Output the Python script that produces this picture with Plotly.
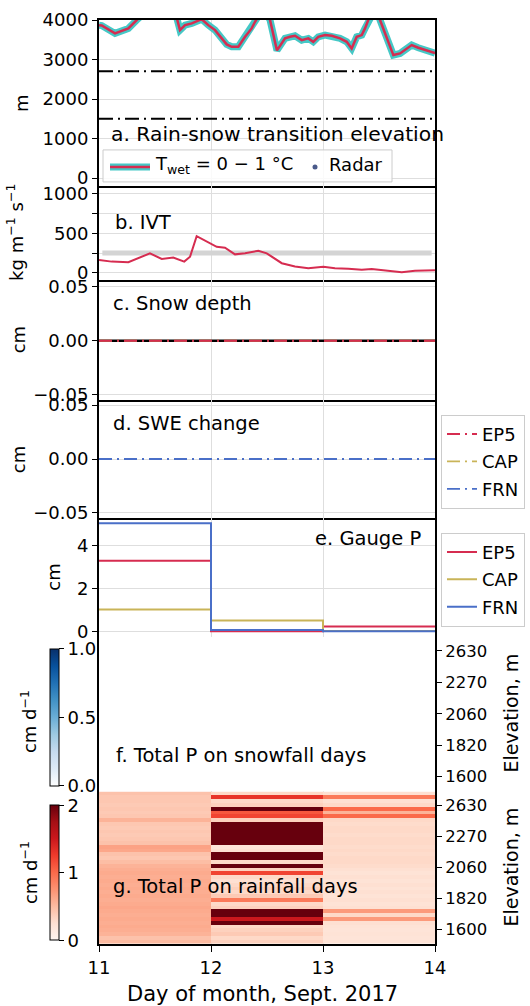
import plotly.graph_objects as go

# ---------------- data ----------------
# a. Rain-snow transition elevation (m)
snowline_day = [11.0, 11.024, 11.143, 11.262, 11.337, 11.45, 11.6, 11.69, 11.723, 11.768,
                11.828, 11.872, 11.917, 11.976, 12.036, 12.14, 12.185, 12.244, 12.304, 12.363,
                12.393, 12.47, 12.527, 12.589, 12.661, 12.705, 12.75, 12.81, 12.869, 12.913,
                12.958, 13.018, 13.078, 13.152, 13.212, 13.256, 13.301, 13.346, 13.375, 13.404,
                13.47, 13.509, 13.628, 13.688, 13.792, 13.851, 13.971, 14.0]
snowline_elev = [3870, 3860, 3661, 3787, 4000, 4300, 4400, 4100, 3744, 3870,
                 3914, 3970, 4020, 3870, 3744, 3382, 3322, 3322, 3575, 3787,
                 3955, 4300, 4000, 3230, 3534, 3575, 3600, 3491, 3534, 3449,
                 3575, 3618, 3600, 3534, 3449, 3281, 3575, 3618, 3787, 4000,
                 4300, 4000, 3112, 3154, 3365, 3297, 3190, 3160]
radar_day = []
radar_elev = []
station_range_elev = [2700, 1500]

# b. IVT (kg m-1 s-1)
ivt_day = [11.0, 11.113, 11.262, 11.351, 11.455, 11.56, 11.663, 11.761, 11.813, 11.872,
           11.961, 12.051, 12.125, 12.214, 12.304, 12.423, 12.498, 12.632, 12.75, 12.869,
           13.003, 13.107, 13.226, 13.346, 13.435, 13.554, 13.703, 13.821, 13.94, 14.0]
ivt_value = [162, 141, 133, 183, 246, 175, 192, 141, 204, 463,
             400, 329, 317, 233, 246, 279, 246, 121, 79, 58,
             75, 58, 50, 37, 46, 25, 5, 25, 33, 33]
ivt_threshold = 250

# c./d. snow depth and SWE change (cm)
daily_day = [11, 12, 13, 14]
depth_ep5 = [0, 0, 0, 0]
depth_cap = [0, 0, 0, 0]
depth_frn = [0, 0, 0, 0]
swe_ep5 = [0, 0, 0, 0]
swe_cap = [0, 0, 0, 0]
swe_frn = [0, 0, 0, 0]

# e. Gauge P (cm per day, days 11, 12, 13)
gauge_edges = [11, 12, 13, 14]
gauge_ep5 = [3.29, 0.0, 0.22]
gauge_cap = [1.02, 0.5, 0.02]
gauge_frn = [5.05, 0.06, 0.0]

# f./g. Total P per station (cm d-1), stations listed from highest to lowest
day_edges = [11, 12, 13, 14]
elev_ticklabels = ["1600", "1820", "2060", "2270", "2630"]
snow_day11 = [0.0] * 40
snow_day12 = [0.0] * 40
snow_day13 = [0.0] * 40
rain_day11 = [0.45, 0.42, 0.42, 0.40, 0.42, 0.40, 0.42, 0.55, 0.42, 0.40,
              0.42, 0.40, 0.42, 0.45, 0.65, 0.62, 0.45, 0.42, 0.48, 0.55,
              0.58, 0.60, 0.58, 0.60, 0.58, 0.60, 0.58, 0.60, 0.58, 0.60,
              0.62, 0.60, 0.58, 0.60, 0.58, 0.60, 0.58, 0.55, 0.45, 0.50]
rain_day12 = [0.30, 1.30, 0.30, 0.35, 2.20, 1.10, 1.20, 0.35, 2.50, 2.50,
              2.50, 2.50, 2.50, 2.50, 0.20, 0.25, 2.30, 2.30, 0.30, 2.30,
              0.35, 1.20, 0.30, 0.25, 0.30, 0.35, 0.30, 0.40, 0.90, 0.30,
              0.35, 2.40, 2.20, 1.50, 2.30, 0.30, 0.35, 0.40, 0.30, 0.35]
rain_day13 = [0.25, 0.90, 0.25, 0.30, 1.00, 0.55, 1.00, 0.30, 0.28, 0.30,
              0.30, 0.28, 0.30, 0.30, 0.28, 0.30, 0.28, 0.30, 0.30, 0.28,
              0.25, 0.22, 0.25, 0.22, 0.25, 0.22, 0.25, 0.22, 0.25, 0.22,
              0.25, 0.70, 0.30, 0.70, 0.25, 0.22, 0.20, 0.22, 0.20, 0.22]

# ---------------- layout helpers ----------------
W, H = 530, 1006
L, R, T, B = 99, 435, 20, 944.5
def px(x):
    return (x - L) / (R - L)
def py(y):
    return (B - y) / (B - T)

bounds = [20, 186, 280, 400, 518.5, 637, 792, 944.5]
FONT = "DejaVu Sans"
RED = "#d62c50"
CYAN = "#45c8c6"
CAPC = "#c9b458"
FRNC = "#4a6fc8"
GRID = "#dedede"
DD = "13px,5px,2px,5px"
LW = 2

n_st = len(rain_day11)
ypos = list(range(n_st))  # 0 = lowest station
rain_z = [[rain_day11[n_st - 1 - k], rain_day12[n_st - 1 - k], rain_day13[n_st - 1 - k]] for k in ypos]
snow_z = [[snow_day11[n_st - 1 - k], snow_day12[n_st - 1 - k], snow_day13[n_st - 1 - k]] for k in ypos]
elev_tickpos = [3.4, 11.5, 19.6, 27.7, 35.8]

REDS = ["#fff5f0", "#fee0d2", "#fcbba1", "#fc9272", "#fb6a4a", "#ef3b2c", "#cb181d", "#a50f15", "#67000d"]
BLUES = ["#ffffff", "#deebf7", "#c6dbef", "#9ecae1", "#6baed6", "#4292c6", "#2171b5", "#08519c", "#08306b"]
def cs(cols):
    return [[i / (len(cols) - 1), c] for i, c in enumerate(cols)]

fig = go.Figure()

# a
fig.add_trace(go.Scatter(x=snowline_day, y=snowline_elev, mode="lines", line=dict(color=CYAN, width=7),
                         xaxis="x", yaxis="y", showlegend=False))
fig.add_trace(go.Scatter(x=snowline_day, y=snowline_elev, mode="lines", line=dict(color=RED, width=2.5),
                         xaxis="x", yaxis="y", showlegend=False))
for e in station_range_elev:
    fig.add_trace(go.Scatter(x=[daily_day[0], daily_day[-1]], y=[e, e], mode="lines",
                             line=dict(color="black", width=2, dash="14px,5px,2px,5px"),
                             xaxis="x", yaxis="y", showlegend=False))
fig.add_trace(go.Scatter(x=radar_day, y=radar_elev, mode="markers", marker=dict(color="#4a5a8a", size=5),
                         xaxis="x", yaxis="y", showlegend=False))

# b
fig.add_trace(go.Scatter(x=[11.03, 13.97], y=[ivt_threshold, ivt_threshold], mode="lines",
                         line=dict(color="#d4d4d4", width=5), xaxis="x2", yaxis="y2", showlegend=False))
fig.add_trace(go.Scatter(x=ivt_day, y=ivt_value, mode="lines", line=dict(color=RED, width=2),
                         xaxis="x2", yaxis="y2", showlegend=False))

# c
fig.add_trace(go.Scatter(x=daily_day, y=depth_frn, mode="lines", line=dict(color="black", width=2.5),
                         xaxis="x3", yaxis="y3", showlegend=False))
for vals, col in [(depth_cap, CAPC), (depth_ep5, RED)]:
    fig.add_trace(go.Scatter(x=daily_day, y=vals, mode="lines", line=dict(color=col, width=2, dash=DD),
                             xaxis="x3", yaxis="y3", showlegend=False))

# d
for vals, col, name in [(swe_ep5, RED, "EP5"), (swe_cap, CAPC, "CAP"), (swe_frn, FRNC, "FRN")]:
    fig.add_trace(go.Scatter(x=daily_day, y=vals, mode="lines", name=name, legendgroup="d" + name,
                             line=dict(color=col, width=1.8, dash=DD),
                             xaxis="x4", yaxis="y4", legend="legend2"))

# e
for vals, col, name in [(gauge_ep5, RED, "EP5"), (gauge_cap, CAPC, "CAP"), (gauge_frn, FRNC, "FRN")]:
    fig.add_trace(go.Scatter(x=gauge_edges, y=vals + [vals[-1]], mode="lines", line_shape="hv", name=name,
                             legendgroup="e" + name, line=dict(color=col, width=2),
                             xaxis="x5", yaxis="y5", legend="legend3"))

cb_common = dict(x=px(50), xanchor="left", xpad=0, yanchor="middle", ypad=0, lenmode="pixels",
                 thickness=9, thicknessmode="pixels", outlinecolor="black", outlinewidth=1,
                 ticks="outside", ticklen=5, tickcolor="black", tickfont=dict(size=18, color="black"))
# f
fig.add_trace(go.Heatmap(x=day_edges, y=ypos, z=snow_z, colorscale=cs(BLUES), zmin=0, zmax=1,
                         xaxis="x6", yaxis="y6",
                         colorbar=dict(y=py(717.8), len=136.5, tickvals=[0, 0.5, 1],
                                       ticktext=["0.0", "0.5", "1.0"], **cb_common)))
# g
fig.add_trace(go.Heatmap(x=day_edges, y=ypos, z=rain_z, colorscale=cs(REDS), zmin=0, zmax=2,
                         xaxis="x7", yaxis="y7",
                         colorbar=dict(y=py(873.3), len=135.4, tickvals=[0, 1, 2], **cb_common)))

layout = dict(
    width=W, height=H, paper_bgcolor="white", plot_bgcolor="white",
    margin=dict(l=L, r=W - R, t=T, b=H - B, autoexpand=False),
    font=dict(family=FONT, size=18, color="black"),
)
for i in range(1, 8):
    dom = [py(bounds[i]), py(bounds[i - 1])]
    xa = dict(domain=[0, 1], range=[11, 14], anchor="y%d" % i, tickvals=[11, 12, 13, 14],
              showgrid=True, gridcolor=GRID, gridwidth=1, showticklabels=(i == 7),
              ticks="outside" if i == 7 else "", ticklen=6, tickcolor="black", tickwidth=1.3,
              showline=True, mirror=(i == 1), linecolor="black", linewidth=LW, zeroline=False)
    if i >= 6:
        xa["layer"] = "above traces"
    layout["xaxis" if i == 1 else "xaxis%d" % i] = xa
    ya = dict(domain=dom, anchor="x%d" % i, ticks="outside", ticklen=5, tickcolor="black", tickwidth=1.3,
              showgrid=True, gridcolor=GRID, gridwidth=1, showline=True, mirror=True, linecolor="black",
              linewidth=LW, zeroline=False)
    layout["yaxis" if i == 1 else "yaxis%d" % i] = ya

layout["yaxis"].update(range=[-200, 4000], tickvals=[0, 1000, 2000, 3000, 4000])
layout["yaxis2"].update(range=[-90, 1100], tickvals=[0, 500, 1000],
                        minor=dict(tickvals=[250, 750], ticks="outside", ticklen=5, tickcolor="black",
                                   showgrid=True, gridcolor=GRID))
layout["yaxis3"].update(range=[-0.0547, 0.0563], tickvals=[-0.05, 0, 0.05], tickformat=".2f")
layout["yaxis4"].update(range=[-0.055, 0.055], tickvals=[-0.05, 0, 0.05], tickformat=".2f")
layout["yaxis5"].update(range=[-0.25, 5.28], tickvals=[0, 2, 4])
for k in ("yaxis6", "yaxis7"):
    layout[k].update(range=[-0.5, n_st - 0.5], side="right", tickvals=elev_tickpos, ticktext=elev_ticklabels,
                     showgrid=False, tickfont=dict(size=16.5))

leg_common = dict(bgcolor="white", bordercolor="#cccccc", borderwidth=1, font=dict(size=18),
                  xanchor="left", yanchor="top", tracegroupgap=1, traceorder="grouped", itemwidth=30)
layout["legend2"] = dict(x=px(441), y=py(415), **leg_common)
layout["legend3"] = dict(x=px(441), y=py(533), **leg_common)

fig.update_layout(**layout)

ann = []
def text(x, y, s, size=19.5, xanchor="left", angle=0):
    ann.append(dict(x=px(x), y=py(y), xref="paper", yref="paper", text=s, showarrow=False,
                    xanchor=xanchor, yanchor="middle", textangle=angle, font=dict(size=size, color="black")))

text(109, 134, "a. Rain-snow transition elevation", size=20.3)
text(113, 223, "b. IVT")
text(111, 304, "c. Snow depth")
text(111, 424, "d. SWE change")
text(423, 539, "e. Gauge P", xanchor="right")
text(114, 756, "f. Total P on snowfall days")
text(111, 887, "g. Total P on rainfall days")
# axis titles
text(22, 103, "m", size=18, xanchor="center", angle=-90)
text(15, 233, "kg m<sup>−1</sup> s<sup>−1</sup>", size=18, xanchor="center", angle=-90)
text(18.5, 340, "cm", size=18, xanchor="center", angle=-90)
text(18.5, 460, "cm", size=18, xanchor="center", angle=-90)
text(54, 578, "cm", size=18, xanchor="center", angle=-90)
text(28.5, 722, "cm d<sup>−1</sup>", size=18, xanchor="center", angle=-90)
text(28.5, 873, "cm d<sup>−1</sup>", size=18, xanchor="center", angle=-90)
text(511, 714, "Elevation, m", size=19, xanchor="center", angle=-90)
text(511, 868, "Elevation, m", size=19, xanchor="center", angle=-90)
text(262, 995, "Day of month, Sept. 2017", size=21, xanchor="center")
# legend of panel a
text(153, 165, "T<sub>wet</sub> = 0 − 1 °C", size=18)
text(327, 165, "Radar", size=18)

shapes = [
    dict(type="rect", xref="paper", yref="paper", x0=px(103), x1=px(392), y0=py(182), y1=py(150),
         line=dict(color="#cccccc", width=1), fillcolor="rgba(255,255,255,0.85)"),
    dict(type="line", xref="paper", yref="paper", x0=px(110), x1=px(150), y0=py(167), y1=py(167),
         line=dict(color=CYAN, width=7)),
    dict(type="line", xref="paper", yref="paper", x0=px(110), x1=px(150), y0=py(167), y1=py(167),
         line=dict(color=RED, width=2.5)),
    dict(type="circle", xref="paper", yref="paper", x0=px(312.5), x1=px(317.5), y0=py(169.5), y1=py(164.5),
         line=dict(color="#4a5a8a", width=0), fillcolor="#4a5a8a"),
]
fig.update_layout(annotations=ann, shapes=shapes)

fig.write_html("out.html")
